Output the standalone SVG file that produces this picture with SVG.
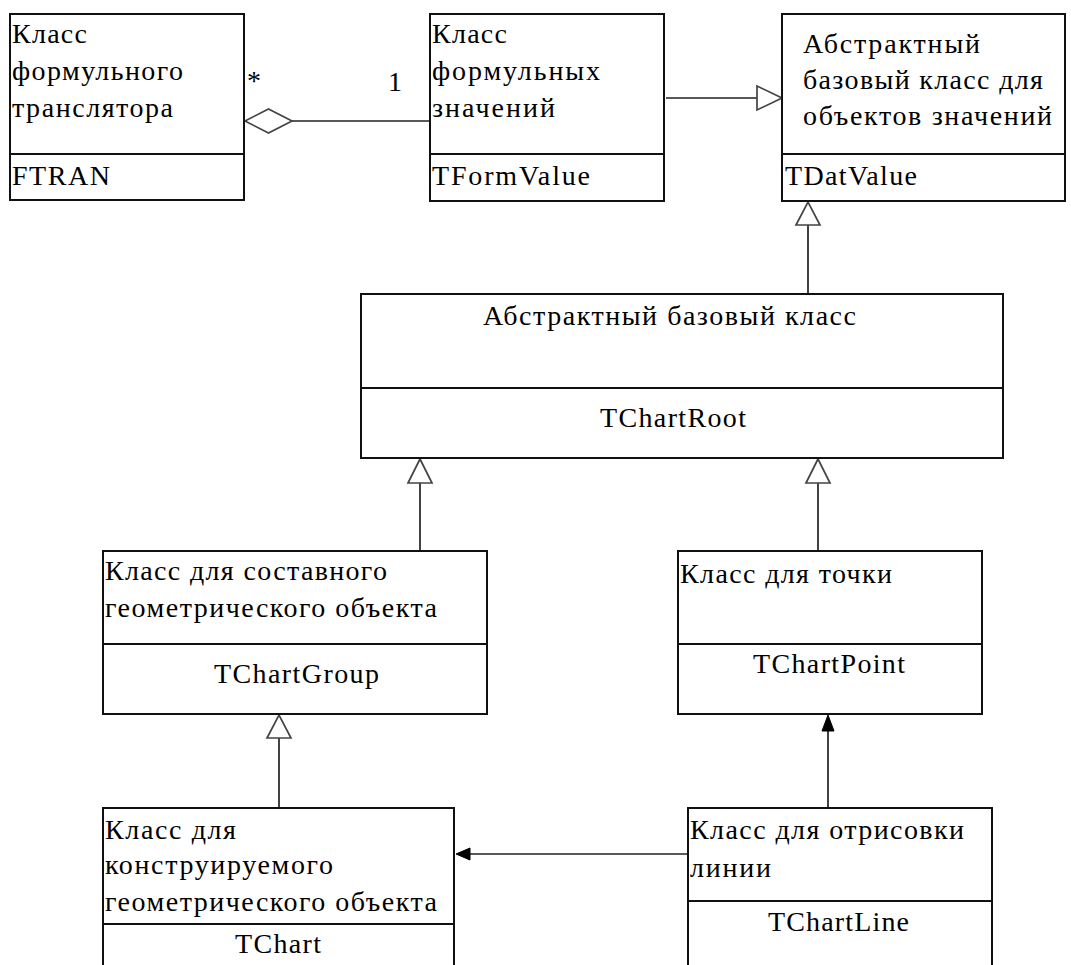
<svg xmlns="http://www.w3.org/2000/svg" width="1071" height="965" viewBox="0 0 1071 965">
<style>
.box{fill:#fff;stroke:#111;stroke-width:2}
.div{stroke:#111;stroke-width:2}
.ln{stroke:#222;stroke-width:1.7;fill:none}
.hol{fill:#fff;stroke:#444;stroke-width:1.7}
.fil{fill:#000;stroke:#000;stroke-width:1}
.t{font-family:'Liberation Serif','Times New Roman',serif;font-size:28px;fill:#000}
</style>
<rect width="1071" height="965" fill="#fff"/>
<g id="connectors">
<line class="ln" x1="292" y1="121" x2="430" y2="121"/>
<polygon class="hol" points="245,121 268.5,109 292,121 268.5,133"/>
<line class="ln" x1="666" y1="98" x2="757" y2="98"/>
<polygon class="hol" points="757,86 782,98 757,110"/>
<line class="ln" x1="808" y1="294" x2="808" y2="225"/>
<polygon class="hol" points="796,225 808,202 820,225"/>
<line class="ln" x1="420" y1="551" x2="420" y2="483"/>
<polygon class="hol" points="408,483 420,459 432,483"/>
<line class="ln" x1="818" y1="551" x2="818" y2="483"/>
<polygon class="hol" points="806,483 818,459 830,483"/>
<line class="ln" x1="279" y1="808" x2="279" y2="738"/>
<polygon class="hol" points="267,738 279,715 291,738"/>
<line class="ln" x1="828" y1="808" x2="828" y2="731"/>
<polygon class="fil" points="822,731 828,715 834,731"/>
<line class="ln" x1="688" y1="854" x2="470" y2="854"/>
<polygon class="fil" points="470,848 456,854 470,860"/>
<text class="t" x="247" y="90" font-size="26">*</text>
<text class="t" x="388" y="91">1</text>
</g>
<g id="FTRAN" class="t">
<rect class="box" x="10" y="14" width="234" height="186"/>
<line class="div" x1="10" y1="154" x2="244" y2="154"/>
<text x="12" y="43" textLength="75" lengthAdjust="spacing">Класс</text>
<text x="12" y="80" textLength="171" lengthAdjust="spacing">формульного</text>
<text x="12" y="117" textLength="161" lengthAdjust="spacing">транслятора</text>
<text x="12" y="185" textLength="98" lengthAdjust="spacing">FTRAN</text>
</g>
<g id="TFormValue" class="t">
<rect class="box" x="430" y="14" width="234" height="187"/>
<line class="div" x1="430" y1="154" x2="664" y2="154"/>
<text x="432" y="43" textLength="75" lengthAdjust="spacing">Класс</text>
<text x="432" y="80" textLength="168" lengthAdjust="spacing">формульных</text>
<text x="432" y="117" textLength="123" lengthAdjust="spacing">значений</text>
<text x="432" y="185" textLength="158" lengthAdjust="spacing">TFormValue</text>
</g>
<g id="TDatValue" class="t">
<rect class="box" x="782" y="14" width="283" height="187"/>
<line class="div" x1="782" y1="154" x2="1065" y2="154"/>
<text x="803" y="53" textLength="177" lengthAdjust="spacing">Абстрактный</text>
<text x="803" y="89" textLength="240" lengthAdjust="spacing">базовый класс для</text>
<text x="803" y="125" textLength="249" lengthAdjust="spacing">объектов значений</text>
<text x="785" y="185" textLength="132" lengthAdjust="spacing">TDatValue</text>
</g>
<g id="TChartRoot" class="t">
<rect class="box" x="361" y="294" width="642" height="164"/>
<line class="div" x1="361" y1="388" x2="1003" y2="388"/>
<text x="483" y="325" textLength="373" lengthAdjust="spacing">Абстрактный базовый класс</text>
<text x="600" y="427" textLength="146" lengthAdjust="spacing">TChartRoot</text>
</g>
<g id="TChartGroup" class="t">
<rect class="box" x="103" y="551" width="384" height="163"/>
<line class="div" x1="103" y1="644" x2="487" y2="644"/>
<text x="105" y="580" textLength="282" lengthAdjust="spacing">Класс для составного</text>
<text x="105" y="617" textLength="332" lengthAdjust="spacing">геометрического объекта</text>
<text x="214" y="683" textLength="165" lengthAdjust="spacing">TChartGroup</text>
</g>
<g id="TChartPoint" class="t">
<rect class="box" x="678" y="551" width="304" height="163"/>
<line class="div" x1="678" y1="644" x2="982" y2="644"/>
<text x="680" y="583" textLength="212" lengthAdjust="spacing">Класс для точки</text>
<text x="753" y="673" textLength="152" lengthAdjust="spacing">TChartPoint</text>
</g>
<g id="TChart" class="t">
<rect class="box" x="103" y="808" width="351" height="180"/>
<line class="div" x1="103" y1="924" x2="454" y2="924"/>
<text x="105" y="839" textLength="131" lengthAdjust="spacing">Класс для</text>
<text x="105" y="874" textLength="228" lengthAdjust="spacing">конструируемого</text>
<text x="105" y="911" textLength="332" lengthAdjust="spacing">геометрического объекта</text>
<text x="235" y="953" textLength="86" lengthAdjust="spacing">TChart</text>
</g>
<g id="TChartLine" class="t">
<rect class="box" x="688" y="808" width="304" height="180"/>
<line class="div" x1="688" y1="901" x2="992" y2="901"/>
<text x="690" y="839" textLength="274" lengthAdjust="spacing">Класс для отрисовки</text>
<text x="690" y="877" textLength="81" lengthAdjust="spacing">линии</text>
<text x="768" y="931" textLength="141" lengthAdjust="spacing">TChartLine</text>
</g>
</svg>
